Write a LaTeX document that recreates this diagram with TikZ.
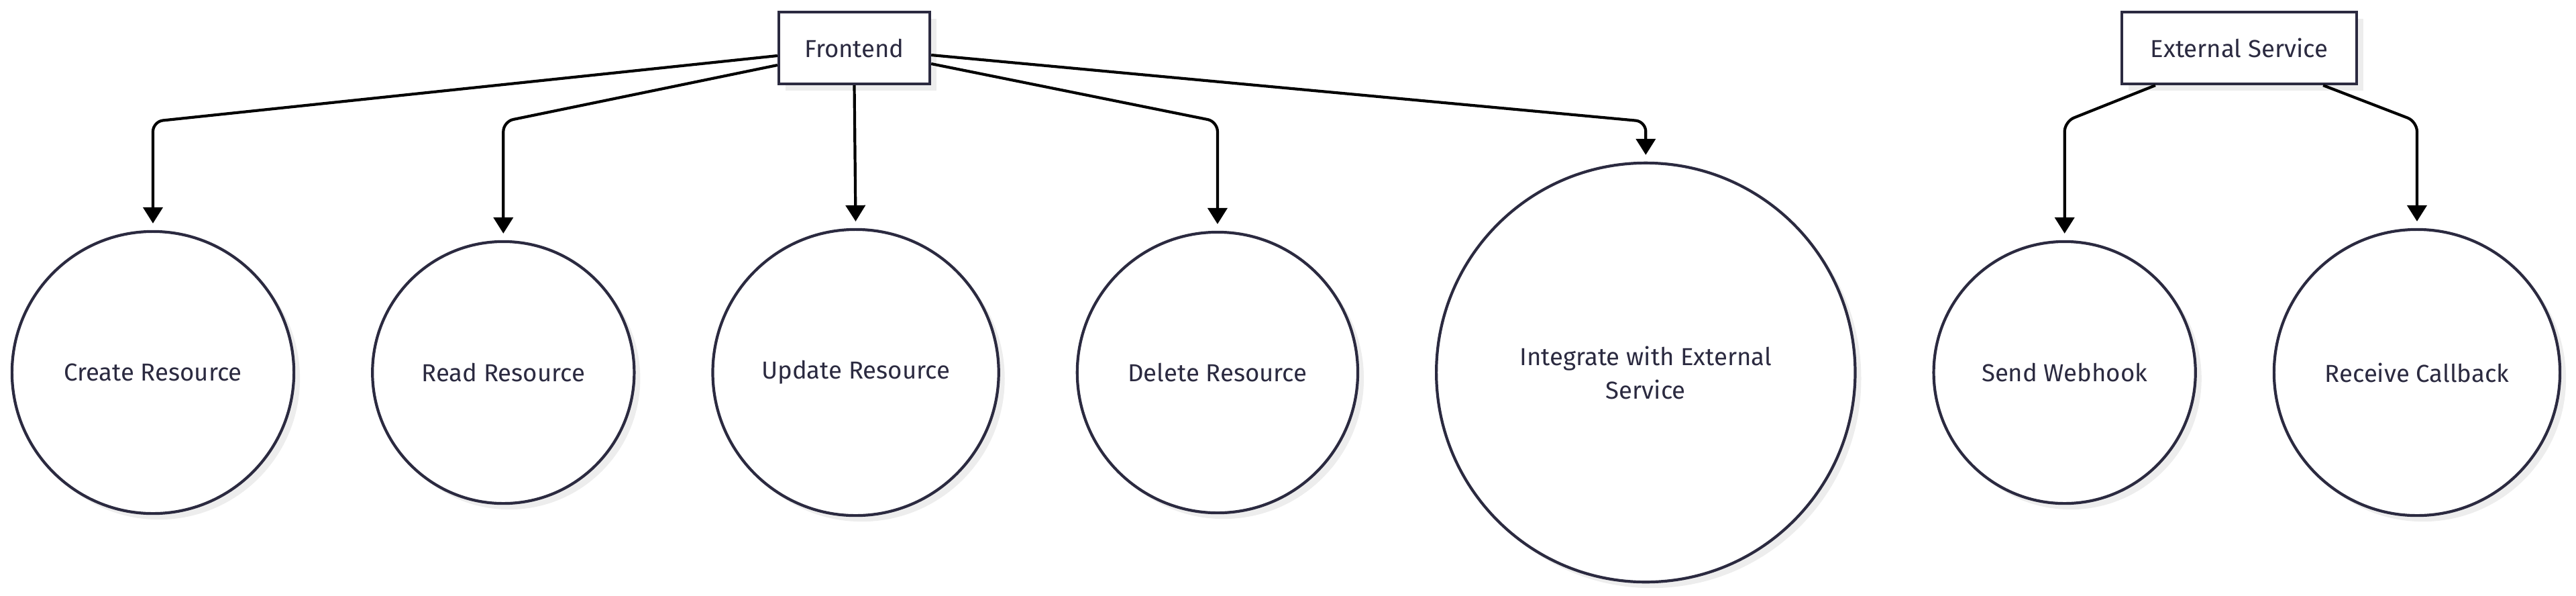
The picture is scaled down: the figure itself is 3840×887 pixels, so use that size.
\documentclass[tikz,border=0pt]{standalone}
\usepackage{fontspec}
\setmainfont{Fira Sans}
\usetikzlibrary{positioning, arrows.meta, shadows}
\definecolor{ink}{HTML}{2B2A40}
\definecolor{shade}{HTML}{EDEDED}

\begin{document}
\begin{tikzpicture}[x=0.01cm, y=-0.01cm, >={Triangle[length=0.24cm, width=0.29cm]}, node distance=1.17cm, every node/.style={font=\fontsize{10.4}{14.2}\selectfont, text=ink}]
  \tikzset{block/.style={draw=ink, line width=0.042cm, fill=white, minimum height=1.07cm, drop shadow={shadow xshift=0.1cm, shadow yshift=-0.1cm, fill=shade, opacity=1}},
    usecase/.style={circle, draw=ink, line width=0.042cm, fill=white, inner sep=0pt, outer sep=0pt, align=center, drop shadow={shadow xshift=0.09cm, shadow yshift=-0.09cm, fill=shade, opacity=1}},
    flow/.style={->, line width=0.042cm, rounded corners=0.15cm, shorten >=0.12cm}}
  \useasboundingbox (0,0) rectangle (3840,887);

  \node[block, minimum width=2.25cm] (frontend) at (1273.5,71.5) {Frontend};
  \node[block, minimum width=3.5cm] (extsvc) at (3338,71.5) {External Service};

  \node[usecase, minimum size=4.2cm] (create) at (228,555) {Create Resource};
  \node[usecase, minimum size=3.9cm, right=of create] (read) {Read Resource};
  \node[usecase, minimum size=4.26cm, right=of read] (update) {Update Resource};
  \node[usecase, minimum size=4.18cm, right=of update] (delete) {Delete Resource};
  \node[usecase, minimum size=6.24cm, right=of delete] (integrate) {Integrate with External\\Service};
  \node[usecase, minimum size=3.9cm, right=of integrate] (webhook) {Send Webhook};
  \node[usecase, minimum size=4.26cm, right=of webhook] (callback) {Receive Callback};

  \coordinate (bend) at (0,181);
  \draw[flow] ([yshift=-0.115cm]frontend.west) -- (create.north |- bend) -- (create.north);
  \draw[flow] ([yshift=-0.255cm]frontend.west) -- (read.north |- bend) -- (read.north);
  \draw[flow] (frontend.south) -- (update.north);
  \draw[flow] ([yshift=-0.235cm]frontend.east) -- (delete.north |- bend) -- (delete.north);
  \draw[flow] ([yshift=-0.105cm]frontend.east) -- (integrate.north |- bend) -- (integrate.north);
  \draw[flow] ([xshift=-1.25cm]extsvc.south) -- (webhook.north |- bend) -- (webhook.north);
  \draw[flow] ([xshift=1.25cm]extsvc.south) -- (callback.north |- bend) -- (callback.north);
\end{tikzpicture}
\end{document}
